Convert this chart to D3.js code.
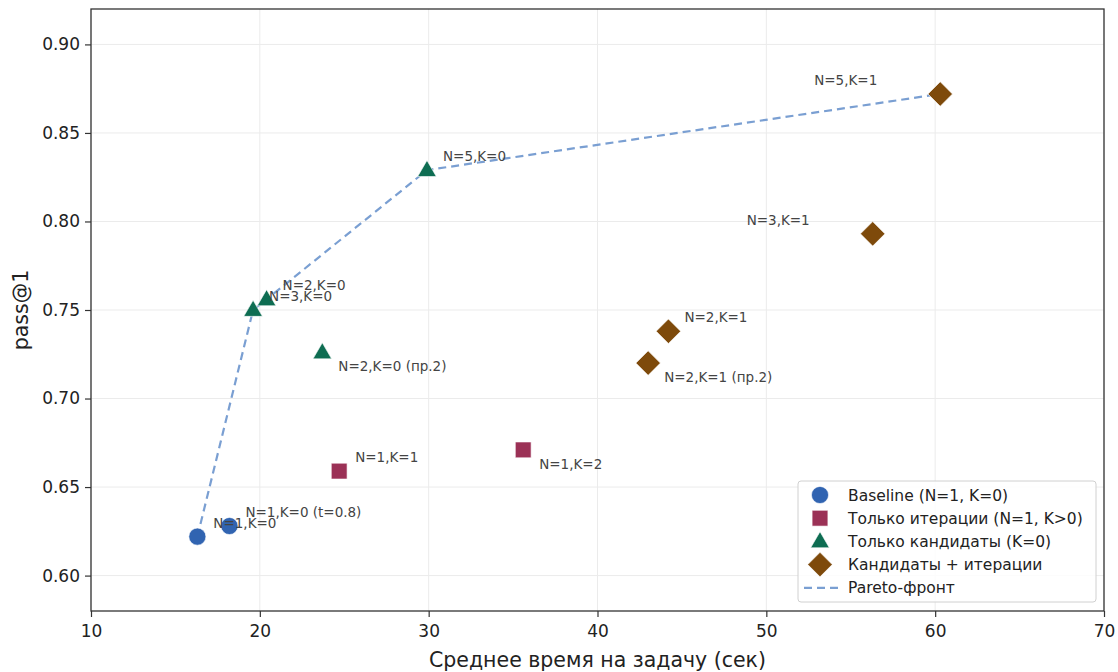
<!DOCTYPE html>
<html><head><meta charset="utf-8">
<script src="https://cdn.jsdelivr.net/npm/d3@7"></script>
<style>body{margin:0;background:#fff;} text{font-family:"DejaVu Sans",sans-serif;}</style>
</head><body>
<svg id="c" width="1118" height="672"></svg>
<script>
const groups = ["Baseline (N=1, K=0)", "Только итерации (N=1, K>0)", "Только кандидаты (K=0)", "Кандидаты + итерации"];
const groupColors = ["#3164b1", "#9b3156", "#0e6d52", "#7e4a0b"];
const groupSymbols = ["circle", "square", "triangle", "diamond"];

const labels = ["N=1,K=0", "N=1,K=0 (t=0.8)", "N=1,K=1", "N=1,K=2", "N=3,K=0", "N=2,K=0", "N=2,K=0 (пр.2)", "N=5,K=0", "N=5,K=1", "N=3,K=1", "N=2,K=1", "N=2,K=1 (пр.2)"];
const times = [16.3, 18.2, 24.7, 35.6, 19.6, 20.4, 23.7, 29.9, 60.3, 56.3, 44.2, 43.0];
const pass1 = [0.622, 0.628, 0.659, 0.671, 0.750, 0.756, 0.726, 0.829, 0.872, 0.793, 0.738, 0.720];
const groupIdx = [0, 0, 1, 1, 2, 2, 2, 2, 3, 3, 3, 3];
// label placement: 0 = above-right, 1 = below-right, 2 = above-left
const labelPos = [0, 0, 0, 1, 0, 0, 1, 0, 2, 2, 0, 1];

const pareto = ["N=1,K=0", "N=3,K=0", "N=2,K=0", "N=5,K=0", "N=5,K=1"];

const xTicks = [10, 20, 30, 40, 50, 60, 70];
const yTicks = [0.60, 0.65, 0.70, 0.75, 0.80, 0.85, 0.90];

const svg = d3.select("#c");
const m = {l: 91, r: 1104, t: 9, b: 611};
const x = d3.scaleLinear().domain([10, 70]).range([m.l, m.r]);
const y = d3.scaleLinear().domain([0.58, 0.92]).range([m.b, m.t]);

// grid
svg.append("g").selectAll("line").data(xTicks).join("line")
  .attr("x1", d => x(d)).attr("x2", d => x(d)).attr("y1", m.t).attr("y2", m.b)
  .attr("stroke", "#ebebeb").attr("stroke-width", 1);
svg.append("g").selectAll("line").data(yTicks).join("line")
  .attr("y1", d => y(d)).attr("y2", d => y(d)).attr("x1", m.l).attr("x2", m.r)
  .attr("stroke", "#ebebeb").attr("stroke-width", 1);

// axes
const xa = svg.append("g").attr("transform", `translate(0,${m.b})`)
  .call(d3.axisBottom(x).tickValues(xTicks).tickFormat(d3.format("d")).tickSize(6).tickPadding(8));
const ya = svg.append("g").attr("transform", `translate(${m.l},0)`)
  .call(d3.axisLeft(y).tickValues(yTicks).tickFormat(d3.format(".2f")).tickSize(6).tickPadding(5));
[xa, ya].forEach(a => {
  a.select(".domain").remove();
  a.selectAll("line").attr("stroke", "#333").attr("stroke-width", 1.2);
  a.selectAll("text").attr("font-size", 17).attr("fill", "#222").attr("font-family", "DejaVu Sans");
});

svg.append("rect").attr("x", m.l).attr("y", m.t).attr("width", m.r - m.l).attr("height", m.b - m.t)
  .attr("fill", "none").attr("stroke", "#333").attr("stroke-width", 1.3);

// axis labels
svg.append("text").attr("x", (m.l + m.r) / 2).attr("y", 667).attr("text-anchor", "middle")
  .attr("font-size", 20.5).attr("fill", "#222").text("Среднее время на задачу (сек)");
svg.append("text").attr("transform", `translate(28,${(m.t + m.b) / 2}) rotate(-90)`).attr("text-anchor", "middle")
  .attr("font-size", 20.5).attr("fill", "#222").text("pass@1");

// pareto line
const pIdx = pareto.map(p => labels.indexOf(p));
svg.append("path").datum(pIdx)
  .attr("d", d3.line().x(i => x(times[i])).y(i => y(pass1[i])))
  .attr("fill", "none").attr("stroke", "#7a9fd2").attr("stroke-width", 2.2)
  .attr("stroke-dasharray", "8,5");

function sym(type) {
  if (type === "circle") return d3.symbol(d3.symbolCircle, 230)();
  if (type === "square") return d3.symbol(d3.symbolSquare, 250)();
  if (type === "triangle") return d3.symbol(d3.symbolTriangle, 150)();
  return d3.symbol(d3.symbolSquare, 300)();
}
function symTransform(type, px, py) {
  if (type === "diamond") return `translate(${px},${py}) rotate(45)`;
  if (type === "triangle") return `translate(${px},${py + 1})`;
  return `translate(${px},${py})`;
}

const idx = d3.range(labels.length);
svg.append("g").selectAll("path").data(idx).join("path")
  .attr("d", i => sym(groupSymbols[groupIdx[i]]))
  .attr("transform", i => symTransform(groupSymbols[groupIdx[i]], x(times[i]), y(pass1[i])))
  .attr("fill", i => groupColors[groupIdx[i]])
  .attr("stroke", "#fff").attr("stroke-width", 0.6);

// annotations
svg.append("g").selectAll("text").data(idx).join("text")
  .attr("x", i => labelPos[i] === 2 ? x(times[i]) - 63 : x(times[i]) + 16)
  .attr("y", i => labelPos[i] === 1 ? y(pass1[i]) + 19 : y(pass1[i]) - 9)
  .attr("text-anchor", i => labelPos[i] === 2 ? "end" : "start")
  .attr("font-size", 13.5).attr("fill", "#444")
  .text(i => labels[i]);

// legend
const lg = svg.append("g").attr("transform", "translate(798,481)");
lg.append("rect").attr("width", 298).attr("height", 121).attr("rx", 3)
  .attr("fill", "#fff").attr("fill-opacity", 0.85).attr("stroke", "#d0d0d0");
const entries = groups.map((g, i) => ({label: g, type: groupSymbols[i], color: groupColors[i]}))
  .concat([{label: "Pareto-фронт", type: "line", color: "#7a9fd2"}]);
entries.forEach((e, i) => {
  const cy = 14 + i * 23.2;
  if (e.type === "line") {
    lg.append("line").attr("x1", 6).attr("x2", 40).attr("y1", cy).attr("y2", cy)
      .attr("stroke", e.color).attr("stroke-width", 2.2).attr("stroke-dasharray", "8,5");
  } else {
    lg.append("path").attr("d", sym(e.type)).attr("transform", symTransform(e.type, 22, cy))
      .attr("fill", e.color).attr("stroke", "#fff").attr("stroke-width", 0.6);
  }
  lg.append("text").attr("x", 50).attr("y", cy + 5.5).attr("font-size", 15.5).attr("fill", "#222").text(e.label);
});
</script>
</body></html>
